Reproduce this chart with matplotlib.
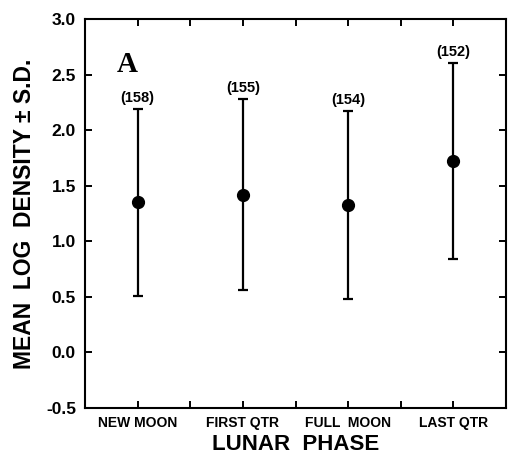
import matplotlib
matplotlib.use("Agg")
import matplotlib.pyplot as plt
import numpy as np

# Data
phases = ["NEW MOON", "FIRST QTR", "FULL  MOON", "LAST QTR"]
means = [1.35, 1.42, 1.33, 1.72]
sds = [0.84, 0.86, 0.845, 0.88]
counts = ["(158)", "(155)", "(154)", "(152)"]

plt.rcParams["font.family"] = ["Liberation Sans", "DejaVu Sans"]

fig = plt.figure(figsize=(5.08, 4.59), dpi=100)
ax = fig.add_axes([85 / 508, 1 - 408 / 459, 421 / 508, 389 / 459])

x = np.arange(1, len(phases) + 1)
ax.errorbar(x, means, yerr=sds, fmt="o", color="black", ms=8.5,
            elinewidth=1.6, capsize=3.6, capthick=1.6)

for xi, m, s, c in zip(x, means, sds, counts):
    ax.text(xi, m + s + 0.1, c, ha="center", va="center",
            fontsize=10.5, fontweight="bold")

ax.text(0.9, 2.59, "A", fontsize=21, fontweight="bold",
        family=["Liberation Serif", "DejaVu Serif"], ha="center", va="center")

ax.set_xlim(0.5, 4.5)
ax.set_ylim(-0.5, 3.0)
xt = np.arange(1, 4.01, 0.5)
ax.set_xticks(xt)
ax.set_xticklabels([phases[int(t) - 1] if t == int(t) else "" for t in xt],
                   fontsize=10, fontweight="bold")
yt = np.arange(-0.5, 3.01, 0.5)
ax.set_yticks(yt)
ax.set_yticklabels([f"{v:.1f}" for v in yt], fontsize=12.5, fontweight="bold")

ax.tick_params(direction="in", length=5, width=1.4, top=True, right=True)
ax.tick_params(axis="y", pad=6.5)
ax.tick_params(axis="x", pad=6)
for sp in ax.spines.values():
    sp.set_linewidth(1.5)

ax.set_xlabel("LUNAR  PHASE", fontsize=16, labelpad=3, fontweight="bold")
ax.set_ylabel("MEAN  LOG  DENSITY \u00b1 S.D.", fontsize=16.5, labelpad=7,
              fontweight="bold")

fig.savefig("out.png", dpi=100)
